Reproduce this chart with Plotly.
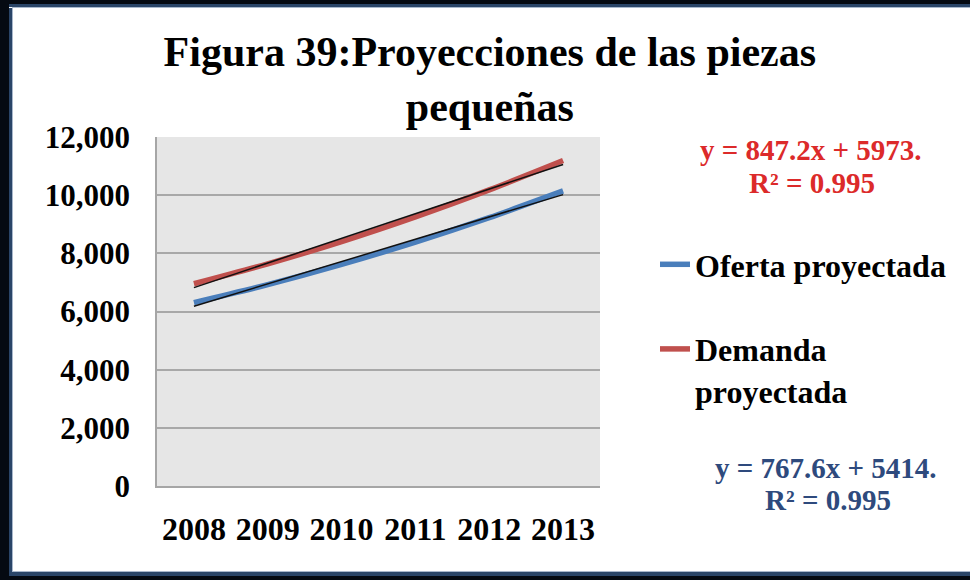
import plotly.graph_objects as go

# ---- data -------------------------------------------------------------
years = ["2008", "2009", "2010", "2011", "2012", "2013"]
oferta = [6305, 6925, 7620, 8385, 9225, 10145]
demanda = [6955, 7640, 8405, 9255, 10180, 11190]

series_names = ["Oferta proyectada", "Demanda<br>proyectada"]

# linear trend y = m*x + b, x = 1..6
trend_slope = [767.6, 847.2]
trend_intercept = [5414, 5973]
trend_r2 = [0.995, 0.995]

y_ticks = [0, 2000, 4000, 6000, 8000, 10000, 12000]

# ---- styling ----------------------------------------------------------
W, H = 970, 580
ML, MR, MT, MB = 157, 370, 137, 94
PW, PH = W - ML - MR, H - MT - MB
SERIF = "Times New Roman, Liberation Serif, serif"
line_colors = ["#4a7ebb", "#c0504d"]
eq_colors = ["#2e4a7d", "#dc2a2a"]


def px(x):
    return (x - ML) / PW


def py(y):
    return (H - MB - y) / PH


fig = go.Figure()

for i, vals in enumerate([oferta, demanda]):
    fig.add_trace(go.Scatter(
        x=years, y=vals, name=series_names[i], mode="lines",
        line=dict(color=line_colors[i], width=5.5, shape="spline", smoothing=0.8),
        legendgroup=f"g{i}", hoverinfo="x+y",
    ))

for i in range(2):
    xs = list(range(1, len(years) + 1))
    ys = [trend_slope[i] * x + trend_intercept[i] for x in xs]
    fig.add_trace(go.Scatter(
        x=years, y=ys, mode="lines", showlegend=False,
        line=dict(color="#111111", width=1.5),
    ))

# equation labels
eq_pos = [((826, 468), (828, 500)), ((811, 150), (812, 183))]
for i in range(2):
    (x1, y1), (x2, y2) = eq_pos[i]
    lines = [f"y = {trend_slope[i]}x + {trend_intercept[i]}.", f"R² = {trend_r2[i]}"]
    for (xx, yy), txt in zip([(x1, y1), (x2, y2)], lines):
        fig.add_annotation(
            x=px(xx), y=py(yy), xref="paper", yref="paper", text=txt,
            showarrow=False, xanchor="center", yanchor="middle",
            font=dict(family=SERIF, size=29, color=eq_colors[i], weight="bold"),
        )

# frame around the chart
frame = [
    (0, 0, 9, H, "#050a12"), (9, 8, 12, 572, "#2a4568"), (12, 8, 13, 571, "#a9b8cc"),
    (0, 0, W, 4, "#050a12"), (9, 4, W, 7, "#2a4568"), (12, 7, W, 8, "#a9b8cc"),
    (12, 571, W, 572, "#a9b8cc"), (9, 572, W, 576, "#2a4568"), (0, 576, W, H, "#050a12"),
]
for x0, y0, x1, y1, c in frame:
    fig.add_shape(type="rect", xref="paper", yref="paper",
                  x0=px(x0), x1=px(x1), y0=py(y1), y1=py(y0),
                  line=dict(width=0), fillcolor=c, layer="above")

fig.update_layout(
    width=W, height=H,
    margin=dict(l=ML, r=MR, t=MT, b=MB),
    paper_bgcolor="white", plot_bgcolor="#e6e6e6",
    title=dict(
        text="Figura 39:Proyecciones de las piezas<br>pequeñas",
        x=0.505, xanchor="center", y=1 - 66 / H, yanchor="middle",
        font=dict(family=SERIF, size=42, color="black", weight="bold"),
    ),
    legend=dict(
        x=px(655), y=py(237), xanchor="left", yanchor="top",
        font=dict(family=SERIF, size=32, color="black", weight="bold"),
        tracegroupgap=40, valign="top", bgcolor="rgba(0,0,0,0)",
    ),
    showlegend=True,
    xaxis=dict(
        type="category", range=[-0.5, 5.5], showgrid=False,
        showline=True, linecolor="#a6a6a6", linewidth=1.5,
        ticks="", tickfont=dict(family=SERIF, size=32, color="black", weight="bold"),
        ticklabelstandoff=14, fixedrange=True,
    ),
    yaxis=dict(
        range=[0, 12000], tickvals=y_ticks, tickformat=",",
        showgrid=True, gridcolor="#a8a8a8", gridwidth=1.5,
        showline=True, linecolor="#a6a6a6", linewidth=1.5, zeroline=False,
        ticks="", tickfont=dict(family=SERIF, size=31, color="black", weight="bold"),
        ticklabelstandoff=19, fixedrange=True,
    ),
)

fig.write_html("out.html")
